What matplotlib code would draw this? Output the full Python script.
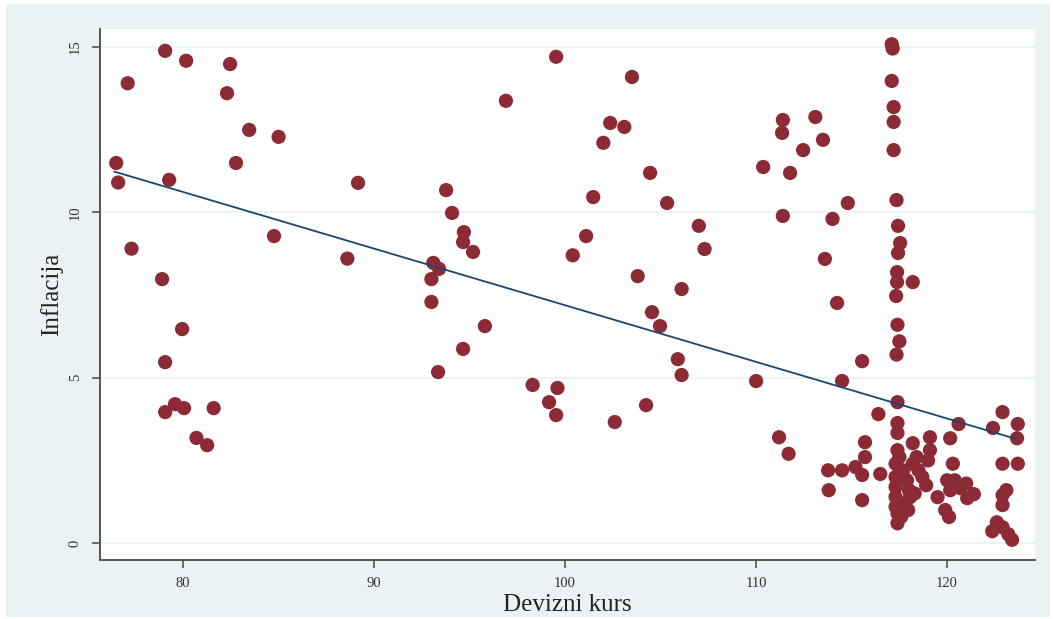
import matplotlib
matplotlib.use("Agg")
import matplotlib.pyplot as plt
from matplotlib.patches import Rectangle

# Devizni kurs (x) and Inflacija (y)
kurs = [76.5, 76.6, 77.1, 77.3, 79.06, 80.16, 79.27, 82.46, 82.3, 83.46, 85.0, 82.77, 84.76,
        78.9, 79.95, 79.06, 79.06, 79.58, 80.05, 81.6, 80.7, 81.26,
        89.16, 96.9, 93.77, 94.08, 94.7, 94.66, 95.18, 88.6, 93.1, 93.4, 93.0, 93.0,
        95.8, 94.66, 93.35, 98.3,
        99.53, 103.5, 102.36, 103.1, 102.0, 104.45, 101.47, 105.34, 107.0, 101.1, 100.4, 107.3,
        103.8, 106.1, 104.55, 104.97, 105.9, 106.1, 99.6, 99.16, 99.53, 104.24, 102.6,
        117.1, 117.15, 117.1, 117.2, 117.2, 117.2, 117.35,
        117.43, 117.54, 117.43, 117.38, 117.38, 118.2, 117.33, 117.4, 117.5, 117.35,
        111.4, 111.36, 113.1, 113.5, 112.46, 110.37, 111.78, 114.8, 111.4, 114.0, 113.6, 114.24,
        110.0, 114.5, 115.55, 111.2, 111.7,
        117.4, 116.4, 117.4, 117.4, 118.2, 119.1, 120.16, 120.6, 122.4, 122.9, 123.7, 123.66,
        115.7, 115.7, 115.2, 115.55, 116.5, 117.4, 119.1, 119.0, 118.2, 118.7, 118.9,
        120.3, 120.0, 120.16, 120.7, 121.05, 121.4, 119.5, 119.9, 120.1, 118.06, 117.96,
        117.3, 117.3, 117.3, 117.3, 117.3, 117.4, 117.6, 117.8, 118.0, 117.7, 118.4, 118.5,
        117.4, 122.9, 123.7, 123.1, 122.9, 122.9, 122.6, 122.36, 122.9, 123.2, 123.4,
        113.77, 113.8, 114.5, 115.55, 117.9, 118.3, 117.5, 120.4, 121.0]
inflacija = [11.49, 10.9, 13.9, 8.9, 14.88, 14.58, 10.98, 14.48, 13.6, 12.49, 12.28, 11.49, 9.28,
             7.98, 6.47, 5.47, 3.96, 4.2, 4.08, 4.08, 3.18, 2.96,
             10.89, 13.37, 10.67, 9.98, 9.4, 9.1, 8.8, 8.6, 8.47, 8.29, 7.98, 7.29,
             6.56, 5.87, 5.17, 4.78,
             14.7, 14.09, 12.7, 12.58, 12.1, 11.19, 10.46, 10.28, 9.59, 9.28, 8.7, 8.89,
             8.07, 7.68, 6.98, 6.56, 5.56, 5.08, 4.69, 4.26, 3.87, 4.17, 3.66,
             15.08, 14.95, 13.97, 13.18, 12.73, 11.88, 10.37,
             9.59, 9.07, 8.77, 8.19, 7.89, 7.89, 7.47, 6.6, 6.1, 5.7,
             12.79, 12.4, 12.88, 12.19, 11.88, 11.37, 11.19, 10.28, 9.89, 9.8, 8.59, 7.26,
             4.9, 4.9, 5.5, 3.2, 2.7,
             4.26, 3.9, 3.63, 3.33, 3.02, 3.2, 3.17, 3.6, 3.48, 3.96, 3.6, 3.17,
             3.05, 2.6, 2.3, 2.06, 2.09, 2.81, 2.81, 2.5, 2.4, 2.0, 1.75,
             2.4, 1.9, 1.6, 1.66, 1.36, 1.48, 1.39, 1.0, 0.79, 1.39, 1.0,
             2.4, 2.0, 1.7, 1.4, 1.1, 0.6, 0.8, 1.2, 1.6, 2.2, 2.6, 2.2,
             0.9, 2.4, 2.4, 1.6, 1.45, 1.15, 0.63, 0.36, 0.48, 0.27, 0.1,
             2.2, 1.6, 2.2, 1.3, 1.9, 1.5, 2.6, 1.9, 1.8]

# Linear fit endpoints
fit_x = [76.4, 123.6]
fit_y = [11.23, 3.15]

xticks = [80, 90, 100, 110, 120]
yticks = [0, 5, 10, 15]

bg = "#eaf2f3"
maroon = "#8c2b36"
navy = "#1a476f"

plt.rcParams['font.family'] = ['Liberation Serif', 'DejaVu Serif']

fig = plt.figure(figsize=(10.53, 6.19), dpi=100, facecolor="white")
fig.patches.append(Rectangle((6 / 1053, 2 / 619), 1044 / 1053, 613 / 619,
                             transform=fig.transFigure, facecolor=bg, edgecolor="none", zorder=-10))
ax = fig.add_axes([100 / 1053, 59 / 619, 935 / 1053, 531 / 619])
ax.set_facecolor("white")

ax.set_xlim(75.65, 124.6)
ax.set_ylim(-0.51, 15.54)

ax.set_yticks(yticks)
ax.set_xticks(xticks)
ax.grid(axis='y', color=bg, linewidth=1.3)
ax.set_axisbelow(True)

ax.scatter(kurs, inflacija, s=105, color=maroon, edgecolors="none", zorder=3)
ax.plot(fit_x, fit_y, color=navy, linewidth=1.3, zorder=4)

for s in ['top', 'right']:
    ax.spines[s].set_visible(False)
for s in ['left', 'bottom']:
    ax.spines[s].set_color("#555555")
    ax.spines[s].set_linewidth(1.4)

ax.tick_params(axis='both', length=6, width=1.2, color="#555555", labelsize=10.5, labelcolor="#333333")
ax.tick_params(axis='x', pad=6)
ax.tick_params(axis='y', pad=7)
for lab in ax.get_yticklabels():
    lab.set_rotation(90)
    lab.set_va('center')

ax.set_xlabel("Devizni kurs", fontsize=18, color="#222222", labelpad=3)
ax.set_ylabel("Inflacija", fontsize=18, color="#222222", labelpad=4)

fig.savefig("out.png", dpi=100, facecolor="white")
